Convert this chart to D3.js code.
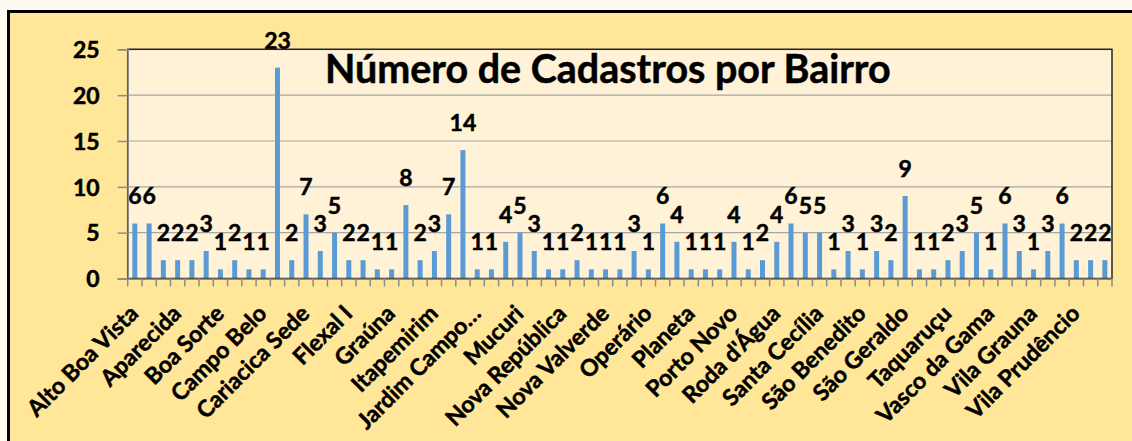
<!DOCTYPE html>
<html>
<head>
<meta charset="utf-8">
<script src="https://cdn.jsdelivr.net/npm/d3@7"></script>
<style>
	body { margin: 0; background: #fffaf0; }
	svg { display: block; }
	text { font-family: Lato, "Open Sans", sans-serif; font-weight: bold; fill: #000; }
	.heavy { stroke: #000; stroke-width: 0.5px; }
</style>
</head>
<body>
<div id="chart"></div>
<script>
// DATA ------------------------------------------------------------
// one value per bairro (69 bars)
var valores = [6, 6, 2, 2, 2, 3, 1, 2, 1, 1, 23, 2, 7, 3, 5, 2, 2, 1, 1, 8,
	2, 3, 7, 14, 1, 1, 4, 5, 3, 1, 1, 2, 1, 1, 1, 3, 1, 6, 4, 1,
	1, 1, 4, 1, 2, 4, 6, 5, 5, 1, 3, 1, 3, 2, 9, 1, 1, 2, 3, 5,
	1, 6, 3, 1, 3, 6, 2, 2, 2];

// only every third category name is printed on the axis
var nomesVisiveis = ["Alto Boa Vista", "Aparecida", "Boa Sorte", "Campo Belo",
	"Cariacica Sede", "Flexal I", "Graúna", "Itapemirim", "Jardim Campo…",
	"Mucuri", "Nova República", "Nova Valverde", "Operário", "Planeta",
	"Porto Novo", "Roda d'Água", "Santa Cecília", "São Benedito", "São Geraldo",
	"Taquaruçu", "Vasco da Gama", "Vila Grauna", "Vila Prudêncio"];
var passoRotulo = 3;

var yTicks = [0, 5, 10, 15, 20, 25];
var titulo = "Número de Cadastros por Bairro";

// SIZES ------------------------------------------------------------
var width = 1132,
	height = 441;
var plot = {left: 127.7, right: 1112, top: 49.3, bottom: 278.5};

var colors = {
	'chart': '#ffe699',
	'plot': '#fff2d6',
	'bar': '#5b9bd5',
	'grid': '#a6a6a6',
	'axis': '#8c8c8c'
};

var svg = d3.select("#chart")
	.append("svg")
	.attr("width", width)
	.attr("height", height);

// outer chart area (cut off on the right and at the bottom)
svg.append("rect")
	.attr("x", 8.5)
	.attr("y", 11.5)
	.attr("width", width + 20)
	.attr("height", height + 20)
	.style("fill", colors.chart)
	.style("stroke", "#000")
	.style("stroke-width", 3);

// plot area
svg.append("rect")
	.attr("x", plot.left)
	.attr("y", plot.top)
	.attr("width", plot.right - plot.left)
	.attr("height", plot.bottom - plot.top)
	.style("fill", colors.plot);

// SCALES ------------------------------------------------------------
var x = d3.scaleBand()
	.domain(d3.range(valores.length))
	.range([plot.left, plot.right])
	.paddingInner(0.65)
	.paddingOuter(0.325);

var y = d3.scaleLinear()
	.domain([0, 25])
	.range([plot.bottom, plot.top]);

// gridlines
svg.append("g")
	.selectAll("line")
	.data(yTicks.slice(1))
	.enter()
	.append("line")
	.attr("x1", plot.left)
	.attr("x2", plot.right)
	.attr("y1", function(d) { return y(d); })
	.attr("y2", function(d) { return y(d); })
	.style("stroke", colors.grid)
	.style("stroke-width", 1.2);

// title sits inside the plot area
var title = svg.append("text")
	.attr("class", "heavy")
	.attr("x", 325)
	.attr("y", 83)
	.style("font-size", "34px")
	.text(titulo);
var tw = title.node().getComputedTextLength();
title.style("font-size", (34 * 566 / tw) + "px");

// BARS ------------------------------------------------------------
svg.append("g")
	.selectAll("rect")
	.data(valores)
	.enter()
	.append("rect")
	.attr("x", function(d, i) { return x(i); })
	.attr("y", function(d) { return y(d); })
	.attr("width", x.bandwidth())
	.attr("height", function(d) { return y(0) - y(d); })
	.style("fill", colors.bar);

// value labels
svg.append("g")
	.selectAll("text")
	.data(valores)
	.enter()
	.append("text")
	.attr("class", "heavy")
	.attr("x", function(d, i) { return x(i) + x.bandwidth() / 2; })
	.attr("y", function(d) { return y(d) - 19; })
	.attr("text-anchor", "middle")
	.style("font-size", "23px")
	.text(function(d) { return d; });

// plot border
svg.append("rect")
	.attr("x", plot.left)
	.attr("y", plot.top)
	.attr("width", plot.right - plot.left)
	.attr("height", plot.bottom - plot.top)
	.style("fill", "none")
	.style("stroke", "#262626")
	.style("stroke-width", 1.5);

// AXES ------------------------------------------------------------
var yAxis = svg.append("g")
	.attr("transform", "translate(" + plot.left + ",0)")
	.call(d3.axisLeft(y).tickValues(yTicks).tickSize(10).tickPadding(18));
yAxis.select(".domain").style("stroke", colors.axis).style("stroke-width", 1.5);
yAxis.selectAll(".tick line").style("stroke", colors.axis).style("stroke-width", 1.5);
yAxis.selectAll(".tick text")
	.attr("class", "heavy")
	.attr("dy", "0.36em")
	.style("font-size", "23px")
	.style("font-family", "Lato, sans-serif")
	.style("font-weight", "bold")
	.style("fill", "#000");

// x ticks sit on the category boundaries
var fronteiras = d3.range(valores.length + 1);
svg.append("g")
	.selectAll("line")
	.data(fronteiras)
	.enter()
	.append("line")
	.attr("x1", function(i) { return plot.left + i * x.step(); })
	.attr("x2", function(i) { return plot.left + i * x.step(); })
	.attr("y1", plot.bottom)
	.attr("y2", plot.bottom + 8)
	.style("stroke", colors.axis)
	.style("stroke-width", 1.5);
svg.append("line")
	.attr("x1", plot.left - 10)
	.attr("x2", plot.right)
	.attr("y1", plot.bottom + 0.8)
	.attr("y2", plot.bottom + 0.8)
	.style("stroke", colors.axis)
	.style("stroke-width", 1.5);

// rotated category names, ending just right of the category centre
svg.append("g")
	.selectAll("text")
	.data(nomesVisiveis)
	.enter()
	.append("text")
	.attr("class", "heavy")
	.attr("transform", function(d, k) {
		var cx = x(k * passoRotulo) + x.bandwidth() / 2;
		return "translate(" + (cx + 5) + "," + 315 + ") rotate(-45)";
	})
	.attr("text-anchor", "end")
	.style("font-size", "23px")
	.text(function(d) { return d; });
</script>
</body>
</html>
